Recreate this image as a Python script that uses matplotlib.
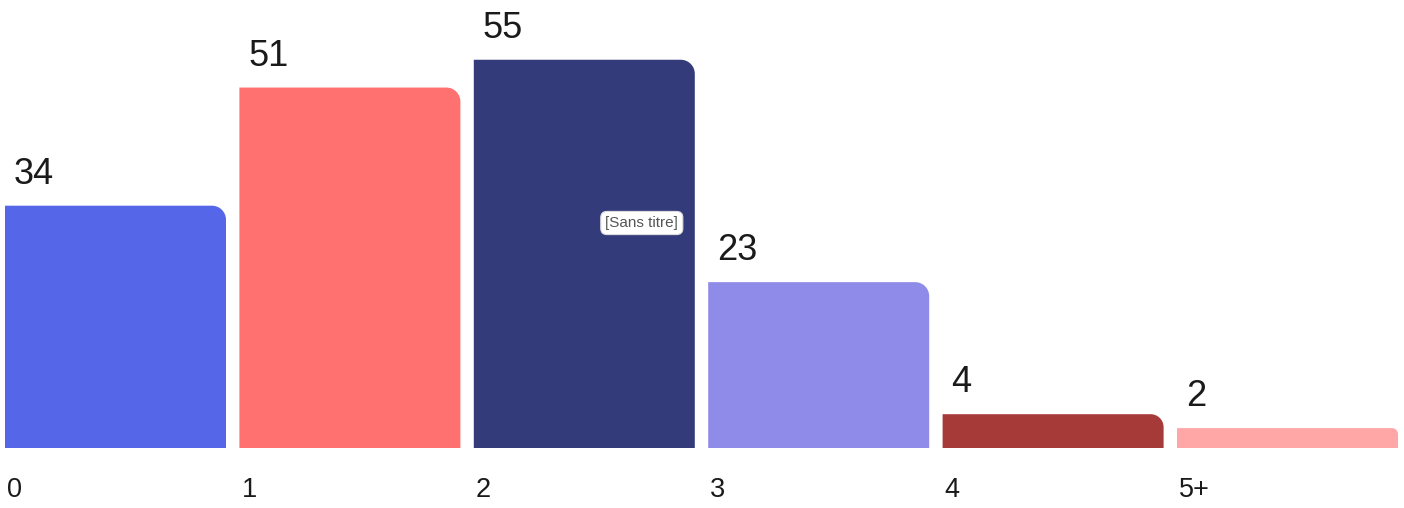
import matplotlib
matplotlib.use("Agg")
import matplotlib.pyplot as plt
from matplotlib.path import Path
from matplotlib.patches import PathPatch

categories = ["0", "1", "2", "3", "4", "5+"]
values = [34, 51, 55, 23, 4, 2]
colors = ["#5567E8", "#FF7171", "#343B7A", "#8E8CE8", "#A53A38", "#FFA6A6"]
tooltip_text = "[Sans titre]"

W, H, DPI = 1404, 508, 100
fig = plt.figure(figsize=(W / DPI, H / DPI), dpi=DPI)
fig.patch.set_facecolor("white")
plt.rcParams["font.family"] = ["Liberation Sans", "DejaVu Sans"]

ax_h_px = 448
ax = fig.add_axes([0, (H - ax_h_px) / H, 1, ax_h_px / H])
ax.set_axis_off()

slot_px = 234.4
left_px = 5
bar_w = 221 / slot_px
xmin = -left_px / slot_px
xmax = xmin + W / slot_px
k_px = 6.95  # pixels per unit
ymin = -6 / k_px
ymax = ymin + ax_h_px / k_px
ax.set_xlim(xmin, xmax)
ax.set_ylim(ymin, ymax)

px_x = slot_px
px_y = k_px

def rounded_bar(x0, w, y0, h, r_px):
    x1 = x0 + w
    rx = r_px / px_x
    ry = r_px / px_y
    c = 0.5523
    verts = [(x0, y0), (x1, y0), (x1, h - ry),
             (x1, h - ry + c * ry), (x1 - rx + c * rx, h), (x1 - rx, h),
             (x0, h), (x0, y0)]
    codes = [Path.MOVETO, Path.LINETO, Path.LINETO,
             Path.CURVE4, Path.CURVE4, Path.CURVE4,
             Path.LINETO, Path.CLOSEPOLY]
    return Path(verts, codes)

for i, (cat, v, col) in enumerate(zip(categories, values, colors)):
    x0 = i
    h_px = (v - ymin) * px_y
    r = min(14, max(2, h_px / 2 - 4))
    patch = PathPatch(rounded_bar(x0, bar_w, ymin, v, r), facecolor=col,
                      edgecolor="none")
    ax.add_patch(patch)
    ax.annotate(str(v), xy=(x0, v), xytext=(9 * 0.72, 22 * 0.72),
                textcoords="offset points", ha="left", va="baseline",
                fontsize=26, color="#1a1a1a")
    ax.text(x0 + 2 / px_x, -(497 - ax_h_px) / ax_h_px, cat,
            transform=ax.get_xaxis_transform(), ha="left", va="baseline",
            fontsize=19.5, color="#1a1a1a", clip_on=False)

# tooltip over the tallest bar
imax = values.index(max(values))
ax.text(imax + (642 - 474) / px_x, (448 - 223) / ax_h_px, tooltip_text,
        transform=ax.get_xaxis_transform(), ha="center", va="center",
        fontsize=11, color="#555555",
        bbox=dict(boxstyle="round,pad=0.3,rounding_size=0.4",
                  facecolor="white", edgecolor="#dddddd", linewidth=0.8))

fig.savefig("out.png", dpi=DPI, facecolor="white")
